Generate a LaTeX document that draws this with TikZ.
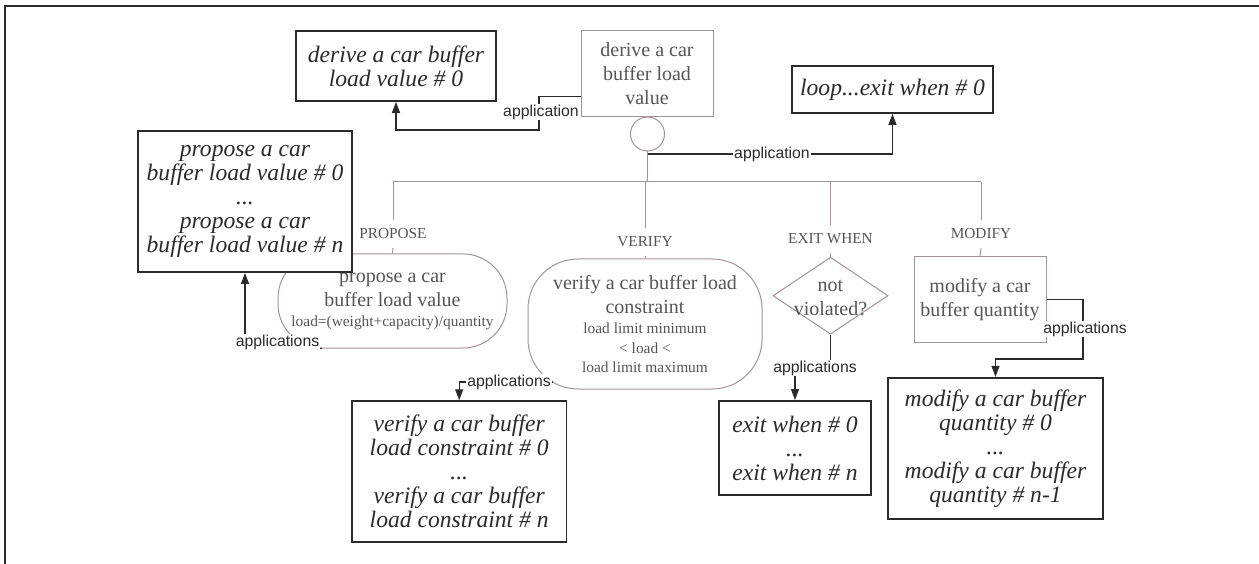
\documentclass[tikz,border=0pt]{standalone}
\usepackage{fontspec}
\setmainfont{Liberation Serif}
\newfontfamily\labelsans{Liberation Sans}
\usetikzlibrary{shapes.geometric,arrows.meta,calc}

\definecolor{ink}{HTML}{2B2B2B}
\definecolor{greyline}{HTML}{A39494}
\definecolor{greytext}{HTML}{555555}

\begin{document}
\begin{tikzpicture}[x=1pt,y=-1pt,
  inst/.style={draw=ink, line width=1.8pt, fill=white, inner sep=0pt, align=center,
    text=ink, font=\fontsize{23.6}{24}\selectfont\itshape},
  rule/.style={draw=greyline, line width=1pt, inner sep=0pt, align=center,
    text=greytext, font=\fontsize{20}{24}\selectfont},
  kind/.style={text=greytext, inner sep=0pt, minimum height=28pt,
    font=\fontsize{15.3}{18}\selectfont},
  wire/.style={draw=ink, line width=1.2pt},
  tree/.style={draw=greyline, line width=1pt},
  arr/.style={wire, -{Triangle[length=11pt,width=8pt]}},
  tag/.style={fill=white, inner sep=1pt, text=ink,
    font=\labelsans\fontsize{15.8}{18}\selectfont},
]
\useasboundingbox (0,0) rectangle (1259,564);

% frame
\draw[ink, line width=2.2pt] (5,564) -- (5,6) -- (1259,6);

% rule being derived and its loop
\node[rule, minimum width=132pt, minimum height=86pt] (B) at (647,74)
  {derive a car\\buffer load\\value};
\node[draw=greyline, line width=1pt, circle, minimum size=34pt, inner sep=0pt] (C) at (647.5,134) {};
\node[inst, minimum width=200pt, minimum height=70pt] (A) at (396,66)
  {derive a car buffer\\load value \# 0};
\node[inst, minimum width=201pt, minimum height=47pt] (L) at (892.5,89.5)
  {loop...exit when \# 0};

% branch bus
\coordinate (bus) at (647.5,182);
\coordinate (bP) at (393,182);
\coordinate (bV) at (645,182);
\coordinate (bE) at (830.5,182);
\coordinate (bM) at (981,182);
\draw[tree] (C.south) -- (bus);
\draw[tree] (bP) -- (bM);

\node[kind] (kP) at (393,234) {PROPOSE};
\node[kind] (kV) at (645,242) {VERIFY};
\node[kind] (kE) at (830.5,239) {EXIT WHEN};
\node[kind] (kM) at (981,234) {MODIFY};

% the four sub-rules
\node[rule, rounded corners=44pt, minimum width=229pt, minimum height=94pt] (P) at (392.5,301)
  {propose a car\\buffer load value\\[-4pt]{\fontsize{15.4}{19}\selectfont load=(weight+capacity)/quantity}};
\node[rule, rounded corners=50pt, minimum width=234pt, minimum height=130pt] (V) at (645,324)
  {verify a car buffer load\\constraint\\[-4pt]{\fontsize{15.4}{19}\selectfont load limit minimum}\\[-4pt]{\fontsize{15.4}{19}\selectfont < load <}\\[-5pt]{\fontsize{15.4}{19}\selectfont load limit maximum}};
\node[draw=greyline, line width=1pt, diamond, aspect=1.49, minimum width=115pt,
  minimum height=77pt, inner sep=0pt] (D) at (830.5,295.7) {};
\node[rule, draw=none] (Dt) at (830.5,298) {not\\violated?};
\node[rule, minimum width=132pt, minimum height=85pt] (M) at (980,299.5)
  {modify a car\\buffer quantity};

\draw[tree] (bP) -- (kP.north);  \draw[tree] (kP.south) -- (P.north);
\draw[tree] (bV) -- (kV.north);  \draw[tree] (kV.south) -- (V.north);
\draw[tree] (bE) -- (kE.north);  \draw[tree] (kE.south) -- (D.north);
\draw[tree] (bM) -- (kM.north);  \draw[tree] (kM.south) -- (M.north);

% instance boxes
\node[inst, minimum width=214pt, minimum height=141pt] (P0) at (245,201.5)
  {propose a car\\buffer load value \# 0\\...\\propose a car\\buffer load value \# n};
\node[inst, minimum width=214.5pt, minimum height=141pt] (V0) at (459.2,471.7)
  {verify a car buffer\\load constraint \# 0\\...\\verify a car buffer\\load constraint \# n};
\node[inst, minimum width=152pt, minimum height=94pt] (E) at (795,448)
  {exit when \# 0\\...\\exit when \# n};
\node[inst, minimum width=215pt, minimum height=141pt] (MQ) at (995.5,448.3)
  {modify a car buffer\\quantity \# 0\\...\\modify a car buffer\\quantity \# n-1};

% application connectors
\draw[arr] ($(B.south west)+(0,-21.3)$) -| (539,130) -| (A.south);
\node[tag] at (541,112) {application};

\coordinate (j) at (647.5,154);
\draw[arr] (j) -| (L.south);
\node[tag] at (772,154) {application};

\draw[arr] ($(P.south west)+(44,0)$) -| (P0.south);
\node[tag] at (277.5,342) {applications};

\coordinate (vout) at (553,382);
\draw[arr] (vout) -| (V0.north);
\node[tag] at (509,382) {applications};

\draw[arr] (D.south) |- (813,367) -| (E.north);
\node[tag] at (815,368) {applications};

\draw[arr] (M.east) -| (1083,359) -| (MQ.north);
\node[tag] at (1085,329) {applications};
\end{tikzpicture}
\end{document}
